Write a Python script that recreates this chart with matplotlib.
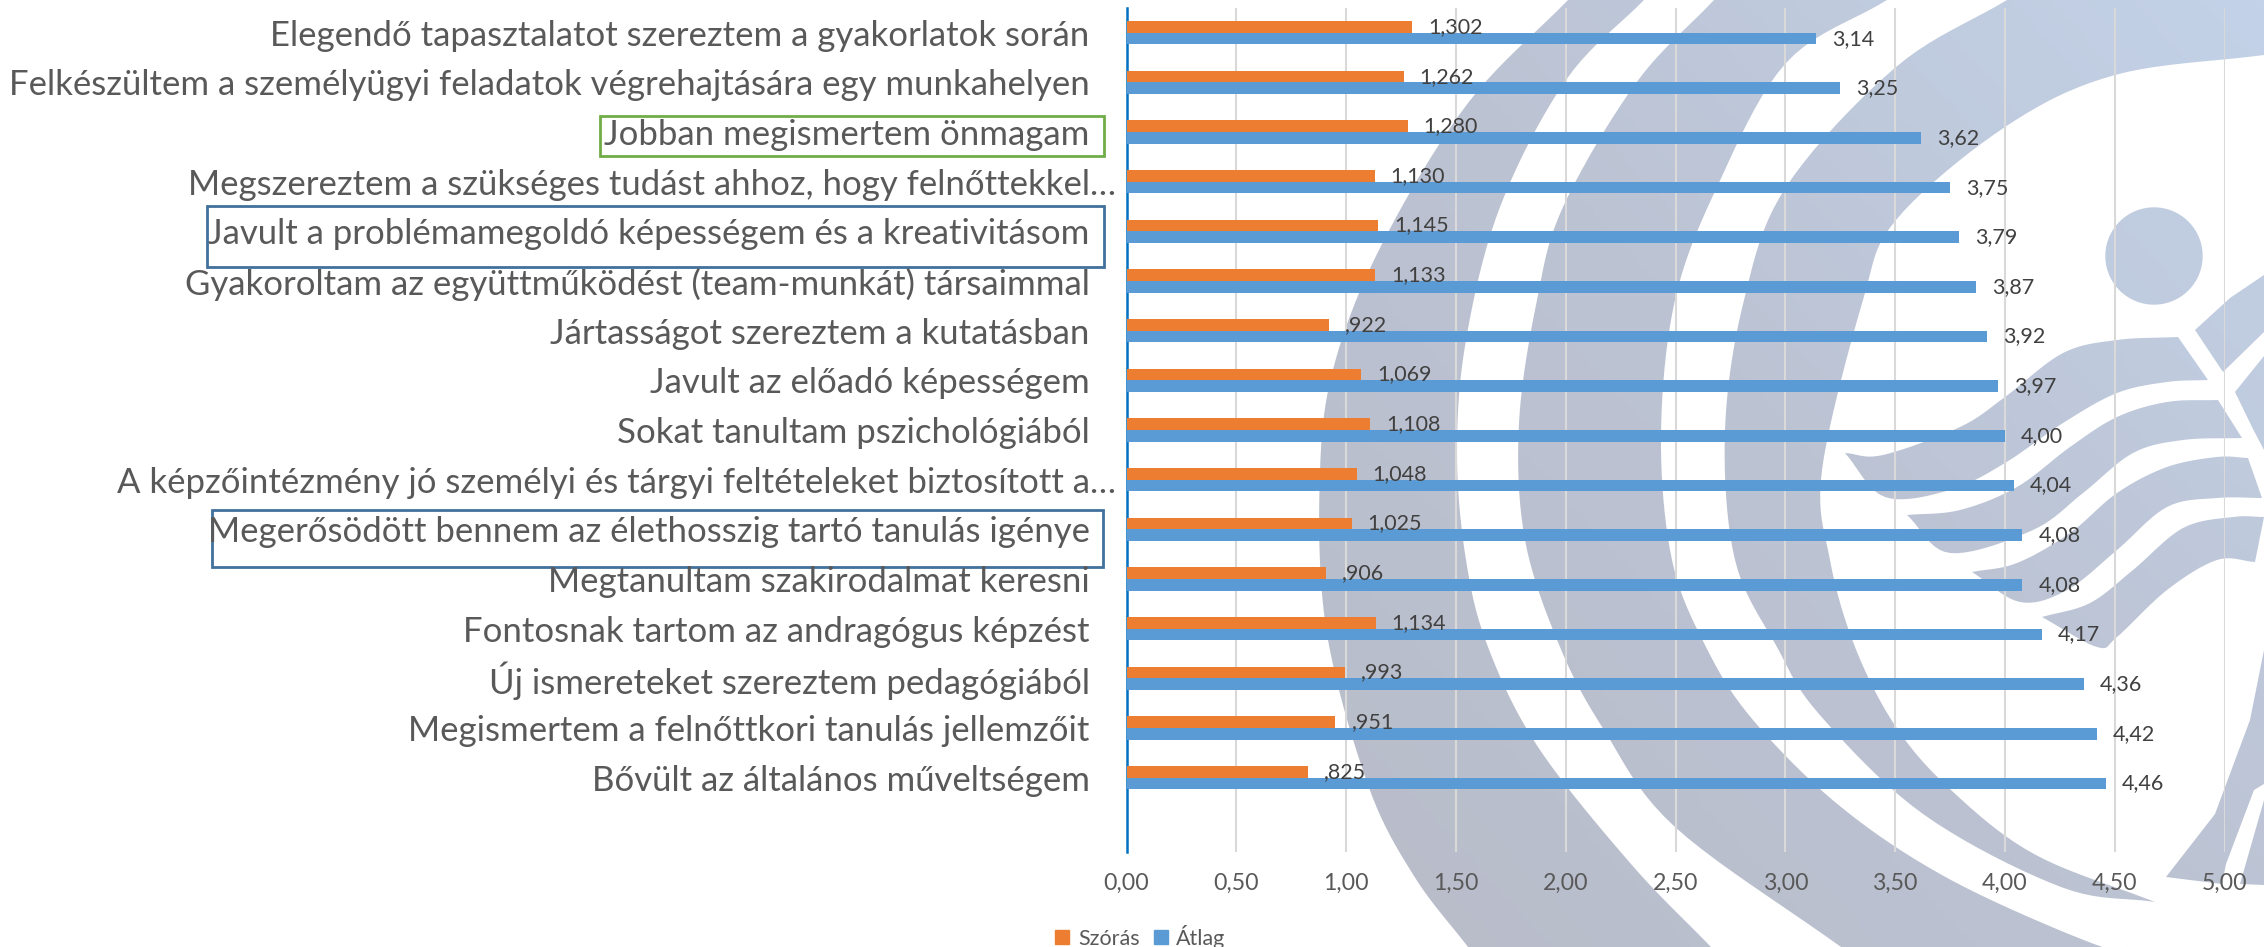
import numpy as np
import matplotlib
matplotlib.use('Agg')
import matplotlib.pyplot as plt
from matplotlib.colors import LinearSegmentedColormap
from matplotlib.patches import PathPatch, Rectangle, Patch
from matplotlib.path import Path
from matplotlib.transforms import ScaledTranslation

plt.rcParams['font.family'] = ['Lato', 'DejaVu Sans']

labels = ['Elegendő tapasztalatot szereztem a gyakorlatok során',
          'Felkészültem a személyügyi feladatok végrehajtására egy munkahelyen',
          'Jobban megismertem önmagam',
          'Megszereztem a szükséges tudást ahhoz, hogy felnőttekkel…',
          'Javult a problémamegoldó képességem és a kreativitásom',
          'Gyakoroltam az együttműködést (team-munkát) társaimmal',
          'Jártasságot szereztem a kutatásban',
          'Javult az előadó képességem',
          'Sokat tanultam pszichológiából',
          'A képzőintézmény jó személyi és tárgyi feltételeket biztosított a…',
          'Megerősödött bennem az élethosszig tartó tanulás igénye',
          'Megtanultam szakirodalmat keresni',
          'Fontosnak tartom az andragógus képzést',
          'Új ismereteket szereztem pedagógiából',
          'Megismertem a felnőttkori tanulás jellemzőit',
          'Bővült az általános műveltségem']
szoras = [1.302, 1.262, 1.280, 1.130, 1.145, 1.133, 0.922, 1.069,
          1.108, 1.048, 1.025, 0.906, 1.134, 0.993, 0.951, 0.825]
atlag = [3.14, 3.25, 3.62, 3.75, 3.79, 3.87, 3.92, 3.97,
         4.00, 4.04, 4.08, 4.08, 4.17, 4.36, 4.42, 4.46]
xticks = [0, 0.5, 1, 1.5, 2, 2.5, 3, 3.5, 4, 4.5, 5]

W, H = 2264, 947

# watermark outlines, in pixels of the image
band1_out = [(1568,0),(1468,103),(1383,242),(1335,362),(1320,471),(1326,628),(1368,785),(1414,876),(1468,947)]
band1_in = [(1644,0),(1566,80),(1500,207),(1466,340),(1457,453),(1466,560),(1488,647),(1538,747),(1631,864),(1711,947)]
band2_out = [(1714,0),(1636,83),(1563,207),(1537,300),(1519,423),(1525,540),(1560,647),(1604,730),(1675,827),(1841,947)]
band2_in = [(1887,0),(1786,63),(1717,187),(1675,300),(1661,435),(1672,560),(1706,647),(1753,720),(1841,807),(1951,880),(2094,944),(2130,947)]
band3_out = [(2007,0),(1896,67),(1786,187),(1744,300),(1725,430),(1735,560),(1777,647),(1819,714),(1923,814),(2061,887),(2155,902)]
band3_in = [(2264,55),(2115,75),(2005,127),(1896,220),(1863,300),(1822,470),(1830,560),(1855,647),(1896,727),(1951,790),(2034,854),(2155,902)]
wave1 = [(1845,453),(1883,455),(1960,427),(2005,397),(2063,353),(2117,340),(2178,337)]
wave1b = [(2208,380),(2167,382),(2117,393),(2063,423),(2005,463),(1950,490),(1885,497),(1845,453)]
wave2 = [(1907,515),(1960,510),(2017,487),(2070,447),(2117,417),(2167,402),(2218,400)]
wave2b = [(2242,438),(2183,440),(2133,453),(2083,493),(2033,530),(1950,553),(1907,515)]
wave3 = [(1972,572),(2017,563),(2070,533),(2117,493),(2167,467),(2217,457),(2248,458)]
wave3b = [(2262,498),(2217,498),(2167,507),(2117,550),(2067,590),(2020,602),(1972,572)]
wave4 = [(2042,617),(2090,603),(2133,570),(2183,528),(2233,517),(2264,517)]
wave4b = [(2255,562),(2217,560),(2167,590),(2117,637),(2097,647),(2042,617)]
arm1 = [(2195,330),(2230,298),(2264,275),(2264,332),(2223,372)]
arm2 = [(2235,392),(2264,356),(2264,450),(2253,429)]
leg1 = [(2166,877),(2215,814),(2250,720),(2264,650),(2264,784),(2254,790),(2226,864),(2222,884)]
leg2 = [(2264,800),(2240,884),(2264,885)]


def smooth(pts, n=10):
    # catmull-rom through the outline points
    p = np.array(pts, dtype=float)
    p = np.vstack([2 * p[0] - p[1], p, 2 * p[-1] - p[-2]])
    out = []
    for i in range(1, len(p) - 2):
        t = np.linspace(0, 1, n, endpoint=False)[:, None]
        a, b, c, d = p[i - 1], p[i], p[i + 1], p[i + 2]
        out.append(0.5 * (2 * b + (c - a) * t + (2 * a - 5 * b + 4 * c - d) * t ** 2
                          + (3 * b - a - 3 * c + d) * t ** 3))
    out.append(p[-2:-1])
    return np.vstack(out)


shapes = [np.vstack([smooth(band1_out), smooth(band1_in)[::-1]]),
          np.vstack([smooth(band2_out), smooth(band2_in)[::-1]]),
          np.vstack([smooth(band3_out), smooth(band3_in)[::-1], [(W, 0)]]),
          np.vstack([smooth(wave1), smooth(wave1b)]),
          np.vstack([smooth(wave2), smooth(wave2b)]),
          np.vstack([smooth(wave3), smooth(wave3b)]),
          np.vstack([smooth(wave4), smooth(wave4b)]),
          np.array(arm1, dtype=float), np.array(arm2, dtype=float),
          np.array(leg1, dtype=float), np.array(leg2, dtype=float)]
ang = np.linspace(0, 2 * np.pi, 80)
shapes.append(np.column_stack([2154 + 48.7 * np.cos(ang), 256 + 48.7 * np.sin(ang)]))

fig = plt.figure(figsize=(W / 100, H / 100), dpi=100, facecolor='white')

bg = fig.add_axes([0, 0, 1, 1], zorder=0)
bg.set_xlim(0, W)
bg.set_ylim(H, 0)
bg.axis('off')

gx, gy = np.meshgrid(np.linspace(1300, W, 200), np.linspace(0, H, 200))
grad = ((gx - 1400) / 864 + (H - gy) / H) / 2
wm_cmap = LinearSegmentedColormap.from_list('wm', ['#b9bdca', '#bcc3d3', '#c3d2e8'])
im = bg.imshow(grad, extent=(1300, W, H, 0), cmap=wm_cmap, vmin=0, vmax=1, aspect='auto')
clip = PathPatch(Path.make_compound_path(*[Path(np.vstack([s, s[:1]])) for s in shapes]),
                 transform=bg.transData, facecolor='none', edgecolor='none')
bg.add_patch(clip)
im.set_clip_path(clip)
bg.set_xlim(0, W)
bg.set_ylim(H, 0)

# boxes round three of the labels
bg.add_patch(Rectangle((600, 116), 504, 40, fill=False, edgecolor='#70ad47', lw=2))
bg.add_patch(Rectangle((207, 206), 897, 61, fill=False, edgecolor='#41719c', lw=2))
bg.add_patch(Rectangle((212, 510), 891, 57, fill=False, edgecolor='#41719c', lw=2))

ax = fig.add_axes([1126.6 / W, 1 - 852 / H, 1097.9 / W, 844 / H], zorder=1)
ax.patch.set_visible(False)

y = np.arange(len(labels))
h = 0.235
b1 = ax.barh(y - h / 2, szoras, height=h, color='#ed7d31', zorder=3)
b2 = ax.barh(y + h / 2, atlag, height=h, color='#5b9bd5', zorder=3)

szoras_txt = [f'{v:.3f}'.replace('.', ',').lstrip('0') for v in szoras]
atlag_txt = [f'{v:.2f}'.replace('.', ',') for v in atlag]
ax.bar_label(b1, labels=szoras_txt, padding=11.5, fontsize=15.5, color='#404040', zorder=4)
ax.bar_label(b2, labels=atlag_txt, padding=11.5, fontsize=15.5, color='#404040', zorder=4)

ax.set_xlim(0, 5)
ax.set_ylim(len(labels) + 0.5, -0.5)
ax.set_xticks(xticks)
ax.set_xticklabels([f'{t:.2f}'.replace('.', ',') for t in xticks], fontsize=16.7, color='#595959')
ax.set_yticks(y)
ax.set_yticklabels(labels, fontsize=25, color='#595959')
ax.tick_params(axis='both', length=0)
ax.tick_params(axis='y', pad=26.6)
ax.tick_params(axis='x', pad=15)
ax.grid(axis='x', color='#d9d9d9', lw=1.5, zorder=0)
ax.set_axisbelow(True)
for s in ['top', 'right', 'bottom']:
    ax.spines[s].set_visible(False)
ax.spines['left'].set_color('#0070c0')
ax.spines['left'].set_linewidth(1.8)

# the two cut-off labels reach closer to the axis
shift = ScaledTranslation(26 / 100, 0, fig.dpi_scale_trans)
for lab in ax.get_yticklabels():
    if lab.get_text().endswith('…'):
        lab.set_transform(lab.get_transform() + shift)

handles = [Patch(color='#ed7d31', label='Szórás'), Patch(color='#5b9bd5', label='Átlag')]
fig.legend(handles=handles, loc='lower left', bbox_to_anchor=(1036 / W, -21 / H), ncol=2, frameon=False,
           fontsize=15.5, labelcolor='#595959', handlelength=0.65, handleheight=0.65,
           handletextpad=0.4, columnspacing=0.65)

fig.savefig('out.png', dpi=100)
